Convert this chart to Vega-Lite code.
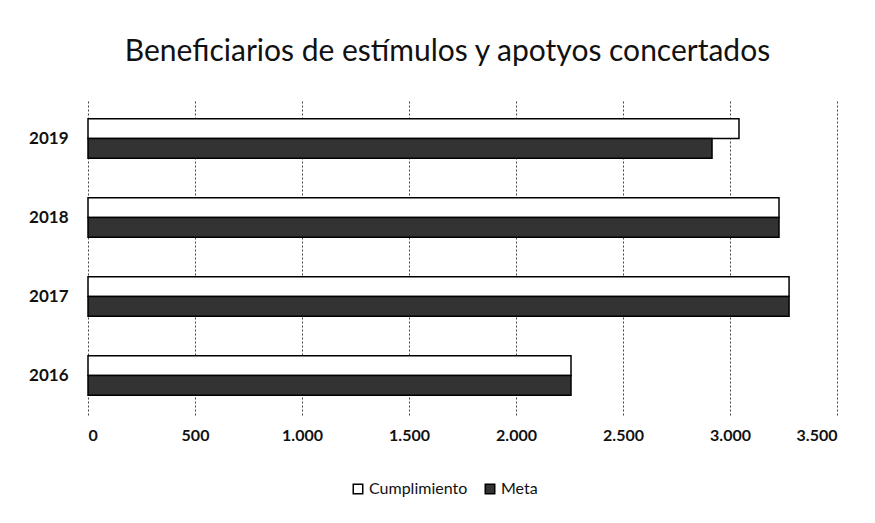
{
  "$schema": "https://vega.github.io/schema/vega-lite/v6.json",
  "autosize": {"type": "none"},
  "width": 749,
  "height": 316,
  "padding": {"left": 88, "top": 99, "right": 38, "bottom": 108},
  "background": "white",
  "title": {
    "text": "Beneficiarios de  estímulos y apotyos concertados",
    "font": "Lato",
    "fontSize": 30,
    "fontWeight": "normal",
    "color": "#111",
    "anchor": "middle",
    "dx": -15,
    "offset": 32
  },
  "data": {
    "values": [
      {"year": "2019", "serie": "Cumplimiento", "value": 3042},
      {"year": "2019", "serie": "Meta", "value": 2916},
      {"year": "2018", "serie": "Cumplimiento", "value": 3229},
      {"year": "2018", "serie": "Meta", "value": 3229},
      {"year": "2017", "serie": "Cumplimiento", "value": 3276},
      {"year": "2017", "serie": "Meta", "value": 3276},
      {"year": "2016", "serie": "Cumplimiento", "value": 2257},
      {"year": "2016", "serie": "Meta", "value": 2257}
    ]
  },
  "mark": {"type": "bar", "stroke": "#000", "strokeWidth": 1.5},
  "encoding": {
    "y": {
      "field": "year",
      "type": "nominal",
      "sort": "descending",
      "scale": {"paddingInner": 0.5, "paddingOuter": 0.25},
      "axis": {
        "title": null,
        "domain": false,
        "ticks": false,
        "labelFont": "Lato",
        "labelFontSize": 17,
        "labelFontWeight": "bold",
        "labelColor": "#111",
        "labelPadding": 20
      }
    },
    "yOffset": {
      "field": "serie",
      "type": "nominal",
      "sort": ["Cumplimiento", "Meta"],
      "scale": {"paddingInner": 0}
    },
    "x": {
      "field": "value",
      "type": "quantitative",
      "scale": {"domain": [0, 3500], "nice": false},
      "axis": {
        "title": null,
        "values": [0, 500, 1000, 1500, 2000, 2500, 3000, 3500],
        "format": ",d",
        "domain": false,
        "ticks": false,
        "grid": true,
        "gridColor": "#444",
        "gridDash": [2, 2],
        "gridWidth": 1,
        "labelFont": "Lato",
        "labelFontSize": 16,
        "labelFontWeight": "bold",
        "labelColor": "#111",
        "labelPadding": 12
      }
    },
    "color": {
      "field": "serie",
      "type": "nominal",
      "sort": ["Cumplimiento", "Meta"],
      "scale": {"domain": ["Cumplimiento", "Meta"], "range": ["#ffffff", "#333333"]},
      "legend": {
        "title": null,
        "orient": "none",
        "direction": "horizontal",
        "legendX": 262,
        "legendY": 382,
        "symbolType": "square",
        "symbolSize": 90,
        "symbolStrokeColor": "#000",
        "symbolStrokeWidth": 1.5,
        "labelFont": "Lato",
        "labelFontSize": 16,
        "labelColor": "#111",
        "columnPadding": 14,
        "labelOffset": 3
      }
    }
  },
  "config": {
    "locale": {
      "number": {"decimal": ",", "thousands": ".", "grouping": [3], "currency": ["", " €"]}
    },
    "view": {"stroke": null}
  }
}
